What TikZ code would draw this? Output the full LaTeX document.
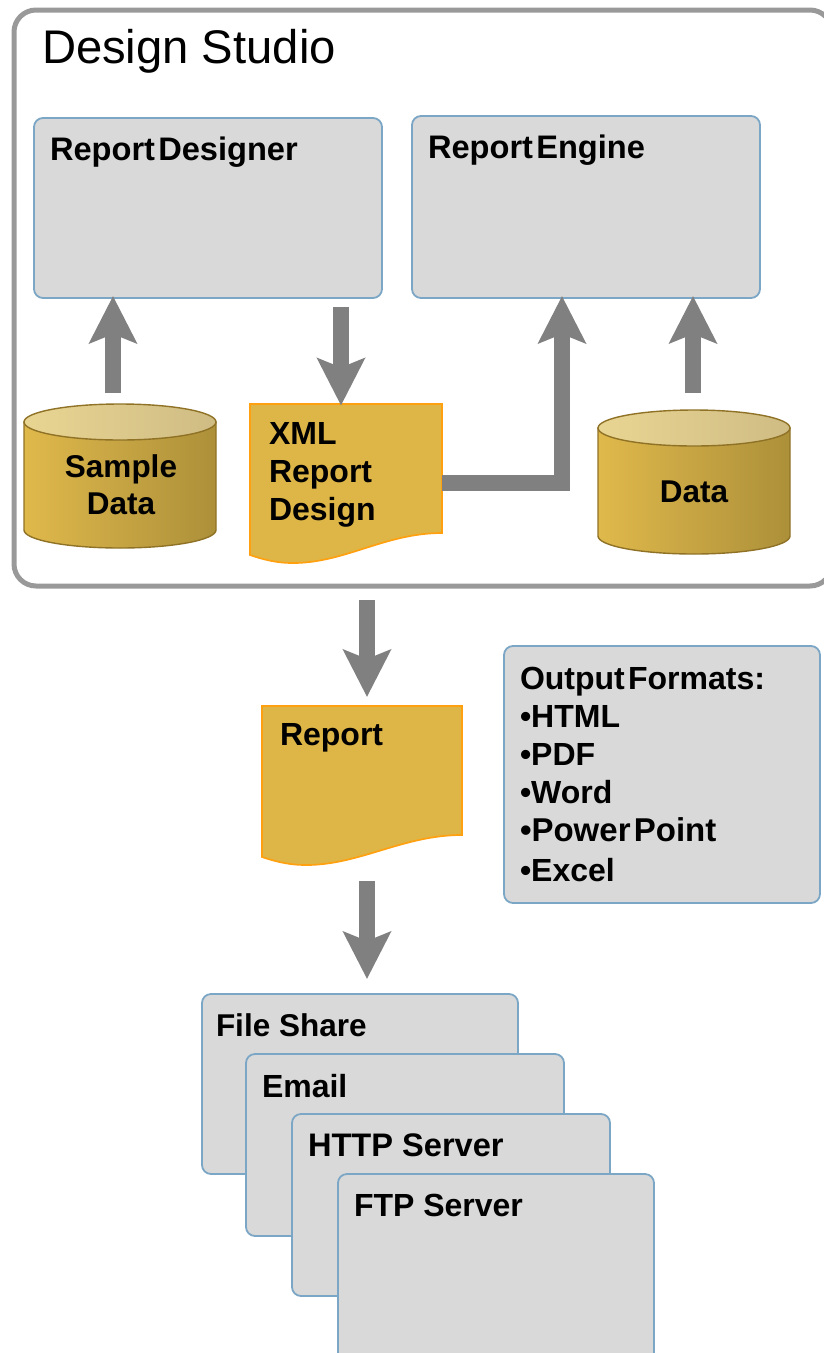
\documentclass[tikz,border=0pt]{standalone}
\usepackage{fontspec}
\setmainfont{Liberation Sans}
\usetikzlibrary{arrows.meta}
\definecolor{boxfill}{HTML}{D9D9D9}
\definecolor{boxline}{HTML}{7CA6C5}
\definecolor{docfill}{HTML}{DEB647}
\definecolor{docline}{HTML}{FFA010}
\definecolor{arrowgray}{HTML}{808080}
\definecolor{studioline}{HTML}{999999}
\definecolor{cylL}{HTML}{E0B94B}
\definecolor{cylM}{HTML}{C6A443}
\definecolor{cylR}{HTML}{AC9039}
\definecolor{topL}{HTML}{E9D592}
\definecolor{topR}{HTML}{CFBC84}
\definecolor{cylline}{HTML}{8F7226}
\newcommand{\nsp}{\hspace{0.1em}}
\tikzset{
  boxstyle/.style={draw=boxline,fill=boxfill,line width=1.8pt,rounded corners=9pt},
  lab/.style={inner sep=0pt,outer sep=0pt,align=left,anchor=north west,font=\fontsize{32}{38}\selectfont\bfseries},
  labw/.style={lab,font=\fontsize{32.6}{38}\selectfont\bfseries},
  labn/.style={lab,font=\fontsize{31.5}{38}\selectfont\bfseries},
  clab/.style={inner sep=0pt,outer sep=0pt,align=center,font=\fontsize{31.5}{37}\selectfont\bfseries},
  docstyle/.style={draw=docline,fill=docfill,line width=1.7pt},
  cylside/.style={draw=cylline,line width=1.4pt,left color=cylL,right color=cylR,middle color=cylM},
  cyltop/.style={draw=cylline,line width=1.4pt,left color=topL,right color=topR},
  bigarrow/.style={draw=arrowgray,line width=16pt,shorten >=-2pt,-{Stealth[width=47pt,length=47pt,inset=9pt]}},
  frameless/.style={inner sep=0pt,outer sep=0pt}
}
\begin{document}
\begin{tikzpicture}[x=1pt,y=-1pt]
\useasboundingbox (0,0) rectangle (824,1353);
% Design Studio frame
\draw[draw=studioline,line width=5pt,rounded corners=22pt] (14,10) rectangle (832,586);
\node[frameless,anchor=base west,font=\fontsize{47.2}{50}\selectfont] (title) at (42,63) {Design Studio};
% top boxes
\draw[boxstyle] (34,118) rectangle (382,298);
\node[frameless,minimum width=348pt,minimum height=180pt] (rd) at (208,208) {};
\node[labw] (rdl) at (50,137) {Report\nsp Designer};
\draw[boxstyle] (412,116) rectangle (760,298);
\node[frameless,minimum width=348pt,minimum height=182pt] (re) at (586,207) {};
\node[labw] (rel) at (428,135) {Report\nsp Engine};
% Sample Data cylinder
\draw[cylside] (24,422) -- (24,530) arc[start angle=180,end angle=0,x radius=96,y radius=18] -- (216,422) -- cycle;
\draw[cyltop] (120,422) ellipse[x radius=96,y radius=18];
\node[frameless,minimum width=192pt,minimum height=144pt] (sd) at (120,476) {};
\node[clab] (sdl) at (121,485) {Sample\\Data};
% Data cylinder
\draw[cylside] (598,428) -- (598,536) arc[start angle=180,end angle=0,x radius=96,y radius=18] -- (790,428) -- cycle;
\draw[cyltop] (694,428) ellipse[x radius=96,y radius=18];
\node[frameless,minimum width=192pt,minimum height=144pt] (dt) at (694,482) {};
\node[clab] (dtl) at (694,492) {Data};
% XML document
\draw[docstyle] (250,404) -- (442,404) -- (442,533) .. controls (385,533) and (345,563) .. (293,563) .. controls (275,563) and (262,559) .. (250,555) -- cycle;
\node[frameless,minimum width=192pt,minimum height=159pt] (xml) at (346,483) {};
\node[lab] (xmll) at (269,422) {XML\\Report\\Design};
% Report document
\draw[docstyle] (262,706) -- (462,706) -- (462,835) .. controls (403,835) and (360,865) .. (306,865) .. controls (288,865) and (274,861) .. (262,857) -- cycle;
\node[frameless,minimum width=200pt,minimum height=159pt] (rep) at (362,785) {};
\node[lab] (repl) at (280,723) {Report};
% Output formats
\draw[boxstyle] (504,646) rectangle (820,903);
\node[frameless,minimum width=316pt,minimum height=257pt] (of) at (662,774) {};
\node[lab] (ofl) at (520,667) {Output\nsp Formats:\\•HTML\\•PDF\\•Word\\{\fontsize{33}{38}\selectfont •Power\nsp Point}\\[2pt]•Excel};
% Stacked destinations
\draw[boxstyle] (202,994) rectangle (518,1174);
\node[frameless,minimum width=316pt,minimum height=180pt] (fs) at (360,1084) {};
\node[labn] (fsl) at (216,1014) {File Share};
\draw[boxstyle] (246,1054) rectangle (564,1236);
\node[frameless,minimum width=318pt,minimum height=182pt] (em) at (405,1145) {};
\node[lab] (eml) at (262,1074) {Email};
\draw[boxstyle] (292,1114) rectangle (610,1296);
\node[frameless,minimum width=318pt,minimum height=182pt] (ht) at (451,1205) {};
\node[labw] (htl) at (308,1134) {HTTP Server};
\draw[boxstyle] (338,1174) rectangle (654,1370);
\node[frameless,minimum width=316pt,minimum height=196pt] (ft) at (496,1272) {};
\node[lab] (ftl) at (354,1194) {FTP Server};
% connectors
\coordinate (a1) at (113,393);
\coordinate (a2) at (341,307);
\coordinate (a3) at (562,483);
\coordinate (a4) at (693,393);
\coordinate (a5) at (367,600);
\coordinate (a6) at (367,881);
\draw[bigarrow] (a1) -- (a1 |- rd.south);
\draw[bigarrow] (a2) -- (a2 |- xml.north);
\draw[bigarrow] (xml.east |- a3) -- (a3) -- (a3 |- re.south);
\draw[bigarrow] (a4) -- (a4 |- re.south);
\draw[bigarrow] (a5) -- (367,695);
\draw[bigarrow] (a6) -- (367,977);
\end{tikzpicture}
\end{document}
